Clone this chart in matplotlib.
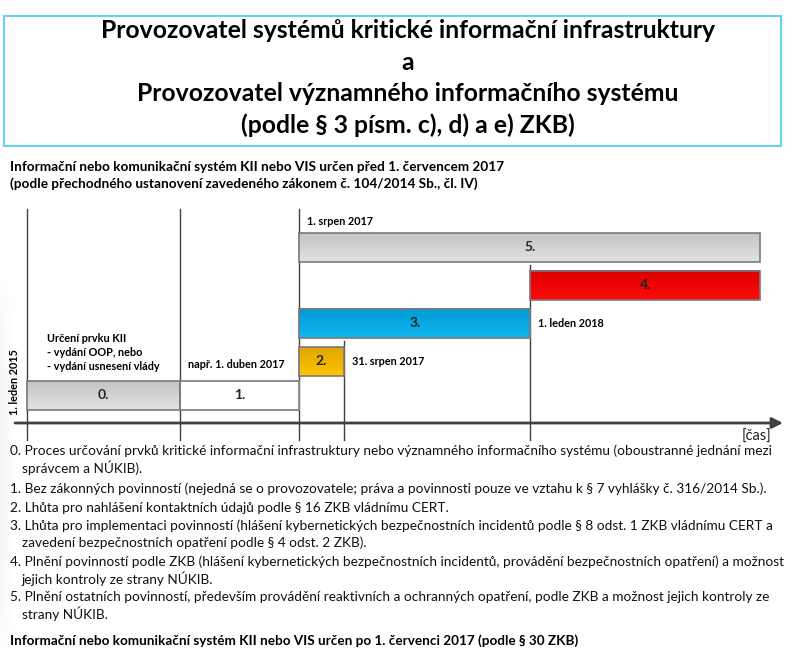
import numpy as np
import matplotlib.pyplot as plt
from matplotlib.patches import Rectangle
from matplotlib.colors import LinearSegmentedColormap

# ── Daten: Phasen der Zeitachse (schematische Einheiten) ─────
faze = ['0.', '1.', '2.', '3.', '4.', '5.']
faze_zacatek = [0.0, 1.0, 1.78, 1.78, 3.29, 1.78]
faze_konec = [1.0, 1.78, 2.07, 3.29, 4.79, 4.79]
faze_radek = [0, 0, 1, 2, 3, 4]

milniky = [0.0, 1.0, 1.78, 2.07, 3.29]
milnik_popisky = ['1. leden 2015', 'např. 1. duben 2017', '1. srpen 2017',
                  '31. srpen 2017', '1. leden 2018']

nadpis = ['Provozovatel systémů kritické informační infrastruktury', 'a',
          'Provozovatel významného informačního systému',
          '(podle § 3 písm. c), d) a e) ZKB)']
hlavicka = ['Informační nebo komunikační systém KII nebo VIS určen před 1. červencem 2017',
            '(podle přechodného ustanovení zavedeného zákonem č. 104/2014 Sb., čl. IV)']
urceni = ['Určení prvku KII', '- vydání OOP, nebo', '- vydání usnesení vlády']
vysvetlivky = [
    ('0. Proces určování prvků kritické informační infrastruktury nebo významného informačního systému (oboustranné jednání mezi', False),
    ('správcem a NÚKIB).', True),
    ('1. Bez zákonných povinností (nejedná se o provozovatele; práva a povinnosti pouze ve vztahu k § 7 vyhlášky č. 316/2014 Sb.).', False),
    ('2. Lhůta pro nahlášení kontaktních údajů podle § 16 ZKB vládnímu CERT.', False),
    ('3. Lhůta pro implementaci povinností (hlášení kybernetických bezpečnostních incidentů podle § 8 odst. 1 ZKB vládnímu CERT a', False),
    ('zavedení bezpečnostních opatření podle § 4 odst. 2 ZKB).', True),
    ('4. Plnění povinností podle ZKB (hlášení kybernetických bezpečnostních incidentů, provádění bezpečnostních opatření) a možnost', False),
    ('jejich kontroly ze strany NÚKIB.', True),
    ('5. Plnění ostatních povinností, především provádění reaktivních a ochranných opatření, podle ZKB a možnost jejich kontroly ze', False),
    ('strany NÚKIB.', True),
]
paticka = 'Informační nebo komunikační systém KII nebo VIS určen po 1. červenci 2017 (podle § 30 ZKB)'

# ── Layout ───────────────────────────────────────────────────
W, H = 796, 652
SX, SY = 153.0, 38.0          # px pro Einheit
X0, Y0 = 27.0, 395.5          # px-Lage von (0, 0)
plt.rcParams['font.family'] = ['Lato', 'DejaVu Sans']

barvy = {0: ('#e2e2e2', '#c4c4c4'), 1: ('#ffffff', '#ffffff'),
         2: ('#ffc400', '#e0a600'), 3: ('#10b8f2', '#0099d4'),
         4: ('#ff0a0a', '#dc0000'), 5: ('#e2e2e2', '#c4c4c4')}


def fx(px):
    return px / W


def fy(py):
    return 1 - py / H


def dy(py):
    return (Y0 - py) / SY


def radek_y(r):
    return 0.0 if r == 0 else r - 0.105


fig = plt.figure(figsize=(W / 100, H / 100), dpi=100)
renderer = fig.canvas.get_renderer()


def fit(texty, vzor, sirka):
    # Schriftgroesse so skalieren, dass 'vzor' die Zielbreite in px hat
    w = vzor.get_window_extent(renderer).width
    s = vzor.get_fontsize() * sirka / w
    for t in texty:
        t.set_fontsize(s)


# leichter grauer Rand links (Folienhintergrund)
bg = fig.add_axes([0, 0, 1, 1])
bg.axis('off')
gx = np.linspace(0.955, 1.0, 32)[None, :]
gy = np.sin(np.linspace(0.0, np.pi, 64))[:, None] ** 0.6
okraj = 1 - (1 - gx) * gy
bg.imshow(okraj, cmap='gray', vmin=0, vmax=1, aspect='auto',
          extent=[0, 16, 652, 280])
bg.set_xlim(0, W)
bg.set_ylim(H, 0)

ax = fig.add_axes([0, 0, 1, 1])
ax.axis('off')
ax.patch.set_alpha(0)
xlim = (-X0 / SX, (W - X0) / SX)
ylim = (-(H - Y0) / SY, Y0 / SY)

# Titelbox
fig.patches.append(Rectangle((fx(4), fy(146)), fx(777), 130 / H,
                             transform=fig.transFigure, fill=False,
                             edgecolor='#66d0f5', lw=1.5))
tt = [fig.text(fx(408), fy(31 + 31.3 * i), t, ha='center', va='center',
               fontsize=17, fontweight='bold') for i, t in enumerate(nadpis)]
fit(tt, tt[0], 616)

hh = [fig.text(fx(10), fy(167 + 17 * i), t, ha='left', va='center',
               fontsize=9.5, fontweight='bold') for i, t in enumerate(hlavicka)]
fit(hh, hh[0], 493)

# Vertikale Linien der Meilensteine
vline_top = [209, 209, 209, 341, 265]
for m, top in zip(milniky, vline_top):
    ax.plot([m, m], [dy(top), dy(440)], color='#404040', lw=1.0, zorder=1)

# Balken mit Verlauf
bh = 29 / SY
for i, (f, a, b, r) in enumerate(zip(faze, faze_zacatek, faze_konec, faze_radek)):
    y = radek_y(r)
    c1, c2 = barvy[i]
    cm = LinearSegmentedColormap.from_list('g', [c1, c2])
    grad = np.linspace(0, 1, 64).reshape(-1, 1)
    ax.imshow(grad, cmap=cm, extent=[a, b, y + bh / 2, y - bh / 2],
              aspect='auto', origin='upper', zorder=2)
    ax.barh(y, b - a, left=a, height=bh, color='none',
            edgecolor='#7a7a7a', lw=1.2, zorder=3)
    ax.text((a + b) / 2, y, f, ha='center', va='center', fontsize=10,
            fontweight='bold', color='#222222', zorder=4)

# Zeitachse
ax.annotate('', xy=((783 - X0) / SX, dy(423)), xytext=((15 - X0) / SX, dy(423)),
            arrowprops=dict(arrowstyle='-|>', color='#404040', lw=2,
                            mutation_scale=16, shrinkA=0, shrinkB=0), zorder=5)
ax.text((771 - X0) / SX, dy(437), '[čas]', ha='right', va='center',
        fontsize=10.5, color='#222222')

# Meilenstein-Beschriftungen
mt = [ax.text((15 - X0) / SX, dy(382), milnik_popisky[0], rotation=90,
              ha='center', va='center', fontsize=8, fontweight='bold')]
poz = [(1, 365), (2, 222), (3, 362), (4, 324)]
for k, ypx in poz:
    mt.append(ax.text(milniky[k] + 8 / SX, dy(ypx), milnik_popisky[k],
                      ha='left', va='center', fontsize=8, fontweight='bold'))
for i, t in enumerate(urceni):
    mt.append(ax.text((47 - X0) / SX, dy(339 + 14 * i), t, ha='left',
                      va='center', fontsize=8, fontweight='bold'))
fit(mt, mt[1], 97)

ax.set_xlim(*xlim)
ax.set_ylim(*ylim)

# Erlaeuterungen
radky_y = [451, 468, 489, 508, 526, 543, 562, 579, 597, 614]
vt = [fig.text(fx(22 if odsazeni else 10), fy(y), t, ha='left', va='center',
               fontsize=10.5, color='#111111')
      for (t, odsazeni), y in zip(vysvetlivky, radky_y)]
fit(vt, vt[0], 765)

pt = fig.text(fx(10), fy(641), paticka, ha='left', va='center', fontsize=10,
              fontweight='bold')
fit([pt], pt, 565)

fig.savefig('out.png', dpi=100)
